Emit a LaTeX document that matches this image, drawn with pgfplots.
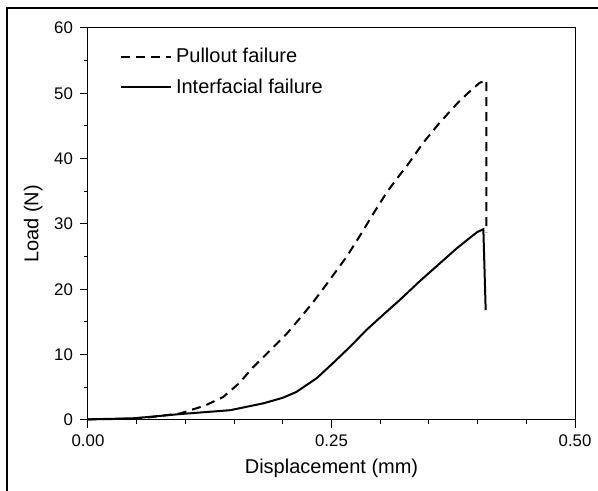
\documentclass[border=0pt]{standalone}
\usepackage{pgfplots}
\pgfplotsset{compat=1.18}
\usepackage{fontspec}
\setmainfont{Liberation Sans}
\begin{document}
\begin{tikzpicture}
\useasboundingbox (0pt,0pt) rectangle (299pt,-245.5pt);
\draw[line width=1.4pt] (3.5pt,-300pt) -- (3.5pt,-4pt) -- (400pt,-4pt);
\begin{axis}[
  at={(44pt,-14pt)}, anchor=north west,
  scale only axis, width=243.5pt, height=196pt,
  xmin=0, xmax=0.5, ymin=0, ymax=60,
  xtick={0,0.25,0.5}, ytick={0,10,20,30,40,50,60},
  minor x tick num=4, minor y tick num=1,
  xticklabel style={/pgf/number format/.cd,fixed,fixed zerofill,precision=2},
  /pgf/number format/assume math mode=true,
  tick label style={font=\fontsize{8.4}{10}\selectfont},
  label style={font=\fontsize{10}{12}\selectfont},
  xlabel={Displacement (mm)}, ylabel={Load (N)},
  tick align=outside, tickpos=left,
  major tick length=4pt, minor tick length=2pt,
  axis line style={line width=0.5pt}, every tick/.style={line width=0.5pt, black},
  xlabel style={yshift=1pt}, ylabel style={yshift=-1pt},
  clip=false,
  legend style={at={(0.065,0.96)}, anchor=north west, draw=none, fill=none,
    font=\fontsize{10}{12}\selectfont, row sep=2.5pt, inner sep=0pt},
  legend cell align=left,
  legend image code/.code={\draw[#1] (0pt,0pt) -- (25pt,0pt);},
]
\addplot[black, line width=1pt, dash pattern=on 4.5pt off 3pt] coordinates {
(0,0.1) (0.03,0.15) (0.06,0.35) (0.0945,1.0) (0.12,2.2) (0.1386,3.5) (0.155,5.6) (0.169,8.0) (0.19,11.1) (0.204,13.2) (0.2177,15.6) (0.231,18.0) (0.245,20.8) (0.2656,25.0) (0.28,28.4) (0.293,31.6) (0.307,34.9) (0.32,37.5) (0.327,38.8) (0.344,42.4) (0.361,45.5) (0.38,48.6) (0.392,50.3) (0.402,51.6) (0.409,52.0) (0.409,28.7)
};
\addlegendentry{Pullout failure}
\addplot[black, line width=1pt] coordinates {
(0,0.1) (0.046,0.25) (0.094,0.9) (0.146,1.5) (0.18,2.55) (0.2,3.4) (0.214,4.3) (0.2348,6.4) (0.2515,8.7) (0.269,11.2) (0.286,13.8) (0.303,16.1) (0.3203,18.4) (0.341,21.3) (0.3614,24.0) (0.378,26.2) (0.3956,28.3) (0.4,28.8) (0.4059,29.2) (0.4083,16.8)
};
\addlegendentry{Interfacial failure}
\end{axis}
\end{tikzpicture}
\end{document}
